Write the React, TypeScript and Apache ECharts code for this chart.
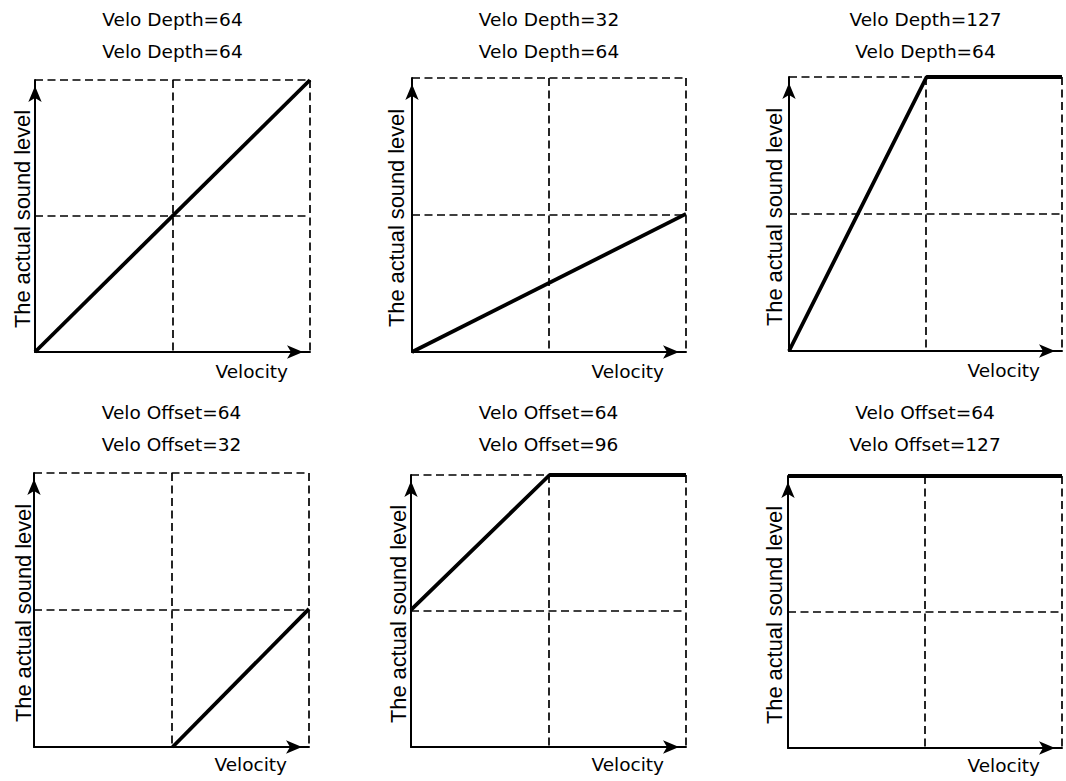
import React, { useEffect, useRef } from 'react';
import * as echarts from 'echarts';

// ---- data ----
const titleLine1 = ['Velo Depth=64', 'Velo Depth=32', 'Velo Depth=127', 'Velo Offset=64', 'Velo Offset=64', 'Velo Offset=64'];
const titleLine2 = ['Velo Depth=64', 'Velo Depth=64', 'Velo Depth=64', 'Velo Offset=32', 'Velo Offset=96', 'Velo Offset=127'];
const xAxisName = 'Velocity';
const yAxisName = 'The actual sound level';
const axisMin = 0;
const axisMax = 127;
const gridStep = 63.5;

// [velocity, actual level]
const curveDepth64 = [[0, 0], [127, 127]];
const curveDepth32 = [[0, 0], [127, 64]];
const curveDepth127 = [[0, 0], [64, 127], [127, 127]];
const curveOffset32 = [[64, 0], [127, 64]];
const curveOffset96 = [[0, 64], [64, 127], [127, 127]];
const curveOffset127 = [[0, 127], [127, 127]];
const curves = [curveDepth64, curveDepth32, curveDepth127, curveOffset32, curveOffset96, curveOffset127];

// ---- layout ----
const panels = [
  { left: 35, top: 80, width: 275, height: 272, titleTop: 3, xNamePad: 10, yNameGap: 2 },
  { left: 412, top: 78, width: 274, height: 274, titleTop: 3, xNamePad: 10, yNameGap: 5 },
  { left: 789, top: 77, width: 273, height: 274, titleTop: 3, xNamePad: 10, yNameGap: 4 },
  { left: 34, top: 473, width: 275, height: 274, titleTop: 396, xNamePad: 8, yNameGap: 0 },
  { left: 411, top: 475, width: 275, height: 272, titleTop: 396, xNamePad: 8, yNameGap: 2 },
  { left: 788, top: 476, width: 274, height: 272, titleTop: 396, xNamePad: 8, yNameGap: 3 },
];

const dashStyle = { type: [8, 4.5] as number[], color: '#000', width: 1.7 };
const axisLineStyle = { color: '#000', width: 2 };

export default function App() {
  const ref = useRef<HTMLDivElement>(null);
  useEffect(() => {
    document.body.style.margin = '0';
    const chart = echarts.init(ref.current!, null, { renderer: 'svg' });
    const grid = panels.map((p) => ({
      left: p.left, top: p.top, width: p.width, height: p.height,
      containLabel: false, outerBoundsMode: 'none',
    }));
    const title = panels.map((p, i) => ({
      text: titleLine1[i] + '\n' + titleLine2[i],
      left: p.left + p.width / 2,
      top: p.titleTop,
      textAlign: 'center',
      padding: 0,
      textStyle: { fontFamily: 'DejaVu Sans', fontSize: 18.5, fontWeight: 'normal', color: '#000', lineHeight: 32 },
    }));
    const xAxis = panels.map((p, i) => ({
      type: 'value', gridIndex: i, min: axisMin, max: axisMax, interval: gridStep,
      axisLabel: { show: false }, axisTick: { show: false },
      splitLine: { show: true, lineStyle: dashStyle },
      axisLine: { show: true, onZero: false, lineStyle: axisLineStyle, symbol: ['none', 'arrow'], symbolSize: [10, 16], symbolOffset: [0, -7] },
      name: xAxisName, nameLocation: 'end', nameGap: -22,
      nameTextStyle: { fontFamily: 'DejaVu Sans', fontSize: 18.5, color: '#000', align: 'right', verticalAlign: 'top', padding: [p.xNamePad, 0, 0, 0] },
    }));
    const yAxis = panels.map((p, i) => ({
      type: 'value', gridIndex: i, min: axisMin, max: axisMax, interval: gridStep,
      axisLabel: { show: false }, axisTick: { show: false },
      splitLine: { show: true, lineStyle: dashStyle },
      axisLine: { show: true, onZero: false, lineStyle: axisLineStyle, symbol: ['none', 'arrow'], symbolSize: [10, 16], symbolOffset: [0, -6] },
      name: yAxisName, nameLocation: 'middle', nameGap: p.yNameGap, nameRotate: 90,
      nameTextStyle: { fontFamily: 'Liberation Sans', fontSize: 21.8, color: '#000', padding: [0, 6, 0, 0] },
    }));
    const series = curves.map((c, i) => ({
      type: 'line', xAxisIndex: i, yAxisIndex: i, data: c,
      showSymbol: false, symbol: 'none', silent: true, z: 5,
      lineStyle: { color: '#000', width: 3.8 },
    }));
    chart.setOption({ animation: false, backgroundColor: '#fff', title, grid, xAxis, yAxis, series });
    return () => chart.dispose();
  }, []);
  return <div ref={ref} style={{ width: 1066, height: 781 }} />;
}
